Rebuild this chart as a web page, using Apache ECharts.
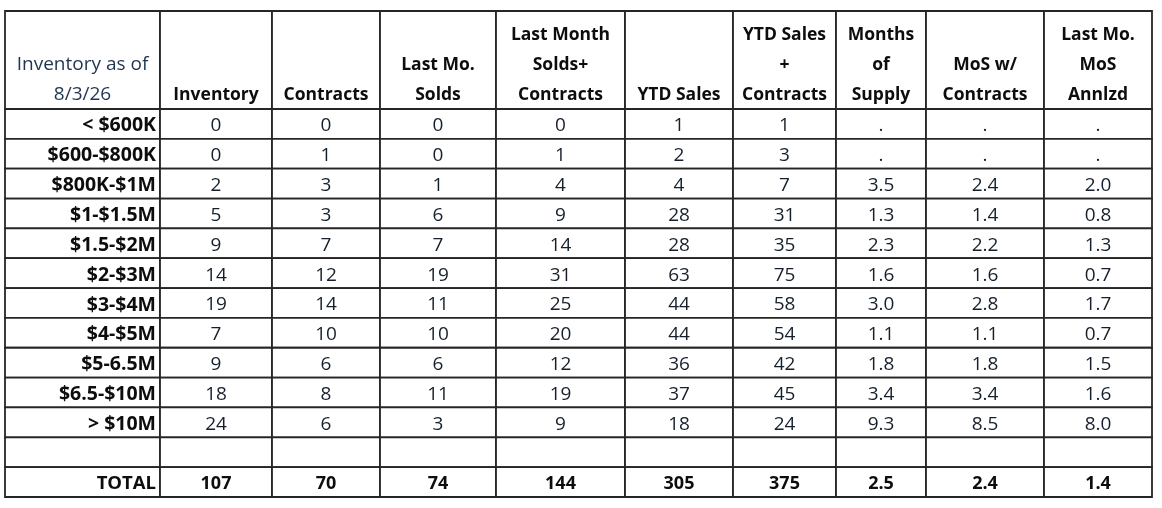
<!DOCTYPE html>
<html lang="en">
<head>
    <meta charset="UTF-8">
    <title>Inventory table</title>
    <script src="https://cdn.jsdelivr.net/npm/echarts@6/dist/echarts.min.js"></script>
    <style>
        html, body { margin: 0; padding: 0; background: #fff; }
    </style>
</head>
<body>
    <div id="tableChart" style="width: 1162px; height: 508px;"></div>

    <script>
        // column headers and row labels
        var headers = ['Inventory as of\n8/3/26', 'Inventory', 'Contracts', 'Last Mo.\nSolds',
            'Last Month\nSolds+\nContracts', 'YTD Sales', 'YTD Sales\n+\nContracts', 'Months\nof\nSupply',
            'MoS w/\nContracts', 'Last Mo.\nMoS\nAnnlzd'];
        var rowLabels = ['< $600K', '$600-$800K', '$800K-$1M', '$1-$1.5M', '$1.5-$2M', '$2-$3M',
            '$3-$4M', '$4-$5M', '$5-6.5M', '$6.5-$10M', '> $10M'];

        // values per column
        var inventory = [0, 0, 2, 5, 9, 14, 19, 7, 9, 18, 24];
        var contracts = [0, 1, 3, 3, 7, 12, 14, 10, 6, 8, 6];
        var lastMoSolds = [0, 0, 1, 6, 7, 19, 11, 10, 6, 11, 3];
        var lastMonthSoldsContracts = [0, 1, 4, 9, 14, 31, 25, 20, 12, 19, 9];
        var ytdSales = [1, 2, 4, 28, 28, 63, 44, 44, 36, 37, 18];
        var ytdSalesContracts = [1, 3, 7, 31, 35, 75, 58, 54, 42, 45, 24];
        var monthsSupply = ['.', '.', '3.5', '1.3', '2.3', '1.6', '3.0', '1.1', '1.8', '3.4', '9.3'];
        var mosContracts = ['.', '.', '2.4', '1.4', '2.2', '1.6', '2.8', '1.1', '1.8', '3.4', '8.5'];
        var lastMoMosAnnlzd = ['.', '.', '2.0', '0.8', '1.3', '0.7', '1.7', '0.7', '1.5', '1.6', '8.0'];
        var totalLabel = 'TOTAL';
        var totals = [107, 70, 74, 144, 305, 375, '2.5', '2.4', '1.4'];

        // layout (widths / heights of the grid)
        var colWidths = [155, 112, 108, 116, 129, 108, 103, 90, 118, 108];
        var headerHeight = 98;
        var rowHeight = 29.85;

        var columns = [inventory, contracts, lastMoSolds, lastMonthSoldsContracts, ytdSales,
            ytdSalesContracts, monthsSupply, mosContracts, lastMoMosAnnlzd];

        var colEdges = [0];
        colWidths.forEach(function (w) { colEdges.push(colEdges[colEdges.length - 1] + w); });
        var nRows = rowLabels.length + 2; // data rows + blank + total
        var rowEdges = [0, headerHeight];
        for (var i = 0; i < nRows; i++) rowEdges.push(rowEdges[rowEdges.length - 1] + rowHeight);

        // build cell list
        var cells = [];
        headers.forEach(function (h, c) {
            cells.push({ value: [c, 0], text: h, kind: c === 0 ? 'corner' : 'header' });
        });
        rowLabels.forEach(function (lab, r) {
            cells.push({ value: [0, r + 1], text: lab, kind: 'label' });
            columns.forEach(function (col, c) {
                cells.push({ value: [c + 1, r + 1], text: String(col[r]), kind: 'data' });
            });
        });
        var blankRow = rowLabels.length + 1;
        for (var c = 0; c < headers.length; c++) {
            cells.push({ value: [c, blankRow], text: '', kind: 'data' });
        }
        cells.push({ value: [0, blankRow + 1], text: totalLabel, kind: 'label' });
        totals.forEach(function (t, c) {
            cells.push({ value: [c + 1, blankRow + 1], text: String(t), kind: 'total' });
        });

        var chart = echarts.init(document.getElementById('tableChart'));

        var option = {
            animation: false,
            grid: { left: 5, right: 10, top: 11, bottom: 11 },
            xAxis: { type: 'value', min: 0, max: colEdges[colEdges.length - 1], show: false },
            yAxis: { type: 'value', min: 0, max: rowEdges[rowEdges.length - 1], inverse: true, show: false },
            series: [{
                type: 'custom',
                data: cells,
                renderItem: function (params, api) {
                    var cell = cells[params.dataIndex];
                    var col = cell.value[0], row = cell.value[1];
                    var p0 = api.coord([colEdges[col], rowEdges[row]]);
                    var p1 = api.coord([colEdges[col + 1], rowEdges[row + 1]]);
                    var w = p1[0] - p0[0], h = p1[1] - p0[1];

                    var txt = {
                        text: cell.text,
                        fontFamily: '"Open Sans", Lato, sans-serif',
                        fontSize: 19,
                        fill: '#16202c',
                        align: 'center',
                        verticalAlign: 'middle',
                        x: p0[0] + w / 2,
                        y: p0[1] + h / 2 + 2
                    };
                    if (cell.kind === 'header' || cell.kind === 'corner') {
                        txt.lineHeight = 30;
                        txt.verticalAlign = 'bottom';
                        txt.y = p1[1] + 1;
                        txt.fontWeight = cell.kind === 'header' ? 'bold' : 'normal';
                        txt.fontSize = cell.kind === 'header' ? 17.5 : 19;
                        txt.fill = cell.kind === 'header' ? '#0d0d0d' : '#1f3550';
                    } else if (cell.kind === 'label') {
                        txt.fontWeight = 'bold';
                        txt.fontSize = cell.text === totalLabel ? 18.5 : 19.5;
                        txt.align = 'right';
                        txt.x = p1[0] - 4;
                        txt.fill = '#0d0d0d';
                    } else if (cell.kind === 'total') {
                        txt.fontWeight = 'bold';
                        txt.fontSize = 18;
                        txt.fill = '#0d0d0d';
                    }

                    return {
                        type: 'group',
                        children: [
                            {
                                type: 'rect',
                                shape: { x: p0[0], y: p0[1], width: w, height: h },
                                style: { fill: '#fff', stroke: '#262626', lineWidth: 1.8 }
                            },
                            { type: 'text', style: txt }
                        ]
                    };
                }
            }]
        };

        chart.setOption(option);
    </script>
</body>
</html>
